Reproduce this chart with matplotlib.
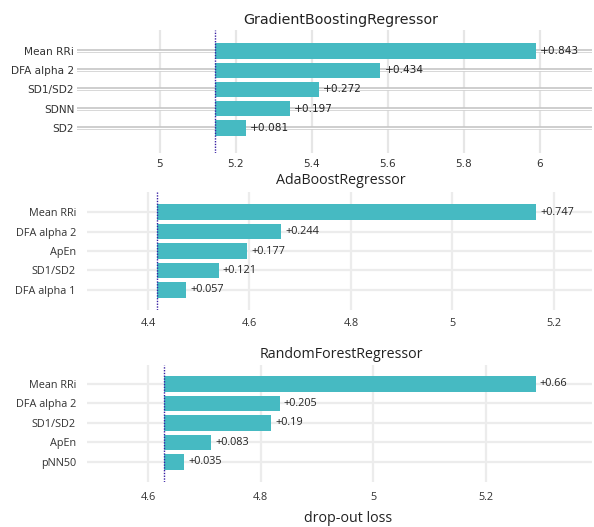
import matplotlib.pyplot as plt

W, H = 594, 527

# data per model (top feature first)
gb_features = ["Mean RRi", "DFA alpha 2", "SD1/SD2", "SDNN", "SD2"]
gb_gain = [0.843, 0.434, 0.272, 0.197, 0.081]
gb_base = 5.146

ada_features = ["Mean RRi", "DFA alpha 2", "ApEn", "SD1/SD2", "DFA alpha 1"]
ada_gain = [0.747, 0.244, 0.177, 0.121, 0.057]
ada_base = 4.418

rf_features = ["Mean RRi", "DFA alpha 2", "SD1/SD2", "ApEn", "pNN50"]
rf_gain = [0.66, 0.205, 0.19, 0.083, 0.035]
rf_base = 4.629

gb_ticks = [5, 5.2, 5.4, 5.6, 5.8, 6]
ada_ticks = [4.4, 4.6, 4.8, 5, 5.2]
rf_ticks = [4.6, 4.8, 5, 5.2]

BAR = "#46bac2"
LINE = "#371ea3"


def px_axes(fig, x0, y0, x1, y1):
    return fig.add_axes([x0 / W, 1 - y1 / H, (x1 - x0) / W, (y1 - y0) / H])


def panel(ax, feats, gains, base, ticks, xlim, ylim, font, fs, ypad, xpad,
          doubled=False):
    n = len(feats)
    pos = list(range(n - 1, -1, -1))
    ax.set_xlim(*xlim)
    ax.set_ylim(*ylim)
    for s in ax.spines.values():
        s.set_visible(False)
    for t in ticks:
        ax.axvline(t, color="#e6e6e6" if doubled else "#ececec", lw=1.6, zorder=0)
    for p in pos:
        if doubled:
            ax.axhline(p, color="#c4c4c4", lw=2.6, zorder=0.5)
            ax.axhline(p, color="white", lw=1.0, zorder=0.6)
        else:
            ax.axhline(p, color="#ececec", lw=1.6, zorder=0.5)
    ax.barh(pos, gains, left=base, height=0.8, color=BAR, zorder=2)
    ax.axvline(base, color=LINE, lw=1.0, ls=(0, (1, 1)), zorder=3)
    # 5 px gap between bar end and label
    gap = (xlim[1] - xlim[0]) * 4 / ax.get_position().width / W
    for p, g in zip(pos, gains):
        ax.text(base + g + gap, p, f"+{g:g}",
                va="center", ha="left", fontsize=fs, color="#222222",
                family=font, zorder=4)
    ax.set_yticks(pos)
    ax.set_yticklabels(feats, family=font, fontsize=fs, color="#333333")
    ax.set_xticks(ticks)
    ax.set_xticklabels([f"{t:g}" for t in ticks], family=font, fontsize=fs,
                       color="#333333")
    ax.tick_params(axis="y", length=0, pad=ypad)
    ax.tick_params(axis="x", length=0, pad=xpad)


fig = plt.figure(figsize=(W / 100, H / 100), dpi=100)

ax1 = px_axes(fig, 77, 30, 592, 153)
panel(ax1, gb_features, gb_gain, gb_base, gb_ticks, (4.7816, 6.137), (-1.30, 5.09),
      "DejaVu Sans", 7.6, 2, 4, doubled=True)
ax2 = px_axes(fig, 87, 192, 592, 310)
panel(ax2, ada_features, ada_gain, ada_base, ada_ticks, (4.2798, 5.2749), (-1.03, 5.03),
      "Open Sans", 7.8, 8, 6)
ax3 = px_axes(fig, 87, 365, 592, 482)
panel(ax3, rf_features, rf_gain, rf_base, rf_ticks, (4.4917, 5.3886), (-1.03, 4.97),
      "Open Sans", 7.8, 8, 7.5)

fig.text(341 / W, 1 - 20 / H, "GradientBoostingRegressor", ha="center", va="center",
         fontsize=10.3, family="DejaVu Sans", color="#222222")
fig.text(341 / W, 1 - 181 / H, "AdaBoostRegressor", ha="center", va="center",
         fontsize=10.3, family="Open Sans", color="#222222")
fig.text(341 / W, 1 - 355 / H, "RandomForestRegressor", ha="center", va="center",
         fontsize=10.3, family="Open Sans", color="#222222")
fig.text(348 / W, 1 - 519 / H, "drop-out loss", ha="center", va="center",
         fontsize=10.3, family="Open Sans", color="#222222")

fig.savefig("out.png", dpi=100)
